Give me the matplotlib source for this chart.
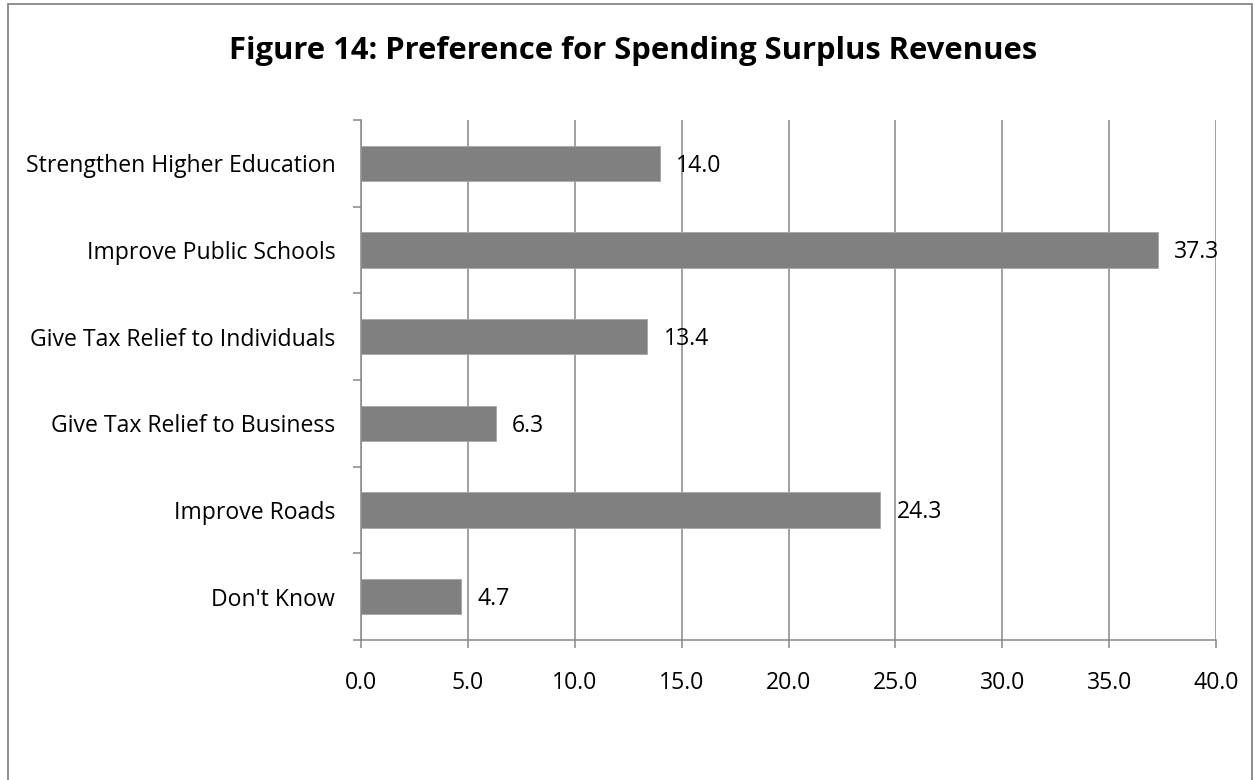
import matplotlib
matplotlib.use("Agg")
import matplotlib.pyplot as plt
from matplotlib.patches import Rectangle

categories = ["Strengthen Higher Education", "Improve Public Schools",
              "Give Tax Relief to Individuals", "Give Tax Relief to Business",
              "Improve Roads", "Don't Know"]
values = [14.0, 37.3, 13.4, 6.3, 24.3, 4.7]
xticks = [0, 5, 10, 15, 20, 25, 30, 35, 40]
title = "Figure 14: Preference for Spending Surplus Revenues"

plt.rcParams['font.family'] = ['Open Sans', 'DejaVu Sans']

W, H = 1255, 780
fig = plt.figure(figsize=(W / 100, H / 100), dpi=100)
ax = fig.add_axes([361 / W, 1 - 640 / H, (1216 - 361) / W, (640 - 120) / H])

grey = "#878787"
fs = 16.6
n = len(categories)
ypos = list(range(n))[::-1]
ax.barh(ypos, values, height=0.41, color="#808080", edgecolor="#a6a6a6",
        linewidth=0.6, zorder=3)
for y, v in zip(ypos, values):
    ax.text(v + 0.75, y - 0.025, f"{v:.1f}", va="center", ha="left", fontsize=fs,
            color="black", zorder=4)

ax.set_xlim(0, 40)
ax.set_ylim(-0.5, n - 0.5)
ax.set_xticks(xticks)
ax.set_xticklabels([f"{t:.1f}" for t in xticks], fontsize=fs)
ax.set_yticks(ypos)
ax.set_yticklabels(categories, fontsize=fs)
ax.set_yticks([i - 0.5 for i in range(n + 1)], minor=True)
ax.tick_params(axis="y", which="major", length=0, pad=18.5)
ax.tick_params(axis="y", which="minor", length=6, width=1.1, color=grey, direction="out")
ax.tick_params(axis="x", which="major", length=6, width=1.1, color=grey, direction="out", pad=16)

ax.grid(axis="x", color=grey, linewidth=1.1, zorder=0)
ax.set_axisbelow(True)
for s in ["top", "right"]:
    ax.spines[s].set_visible(False)
for s in ["left", "bottom"]:
    ax.spines[s].set_color(grey)
    ax.spines[s].set_linewidth(1.1)
    ax.spines[s].set_zorder(5)

fig.text(633 / W, 1 - 59 / H, title, ha="center", va="baseline",
         fontsize=22.3, fontweight="bold")

fig.patches.append(Rectangle((8 / W, -0.05), (1252 - 8) / W, 1.05 - 4 / H,
                             transform=fig.transFigure, fill=False,
                             edgecolor="#878787", linewidth=1.3, clip_on=False))

fig.savefig("out.png", dpi=100)
